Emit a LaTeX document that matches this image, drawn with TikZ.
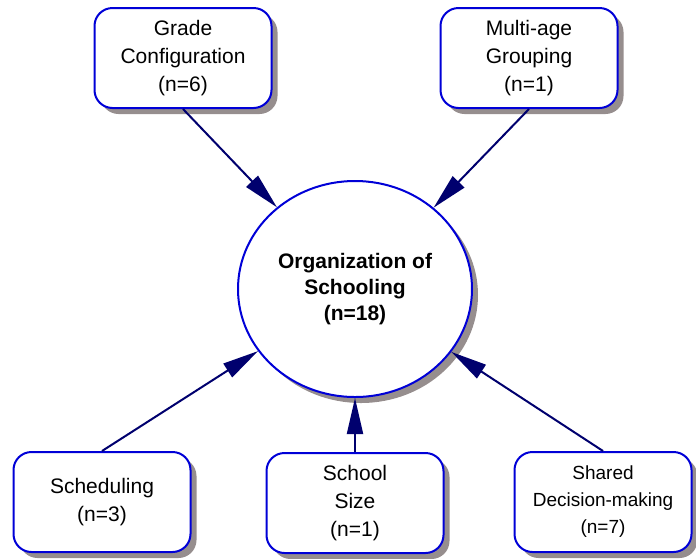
\documentclass[tikz,border=0pt]{standalone}
\usepackage{fontspec}
\setmainfont{Liberation Sans}
\usetikzlibrary{arrows.meta}
\usetikzlibrary{shapes.geometric}
\usetikzlibrary{shadows}
\definecolor{boxblue}{RGB}{0,0,215}
\definecolor{arrownavy}{RGB}{0,0,110}
\definecolor{shadowgray}{RGB}{150,142,142}
\tikzset{topic/.style = {draw=boxblue, line width=2pt, fill=white,
                         rounded corners=18pt, minimum width=177pt,
                         minimum height=100pt, align=center,
                         font=\fontsize{21}{28}\selectfont,
                         drop shadow={shadow xshift=6pt, shadow yshift=-6pt,
                                      fill=shadowgray, opacity=1}}}
\tikzset{hub/.style = {ellipse, draw=boxblue, line width=2pt, fill=white,
                       minimum width=234pt, minimum height=216pt, inner sep=0,
                       align=center, font=\fontsize{21}{26}\selectfont\bfseries,
                       drop shadow={shadow xshift=6pt, shadow yshift=-6pt,
                                    fill=shadowgray, opacity=1}}}
\tikzset{feed/.style = {draw=arrownavy, line width=2pt,
                        -{Triangle[length=36pt, width=16pt]}}}

\begin{document}
\begin{tikzpicture}[x=1pt, y=-1pt]
          \useasboundingbox (0, 0) rectangle (696, 558);
          \node [hub] (org) at (355, 289) {Organization of\\Schooling\\(n=18)};
          \node [topic] (grade) at (183, 58) {Grade\\Configuration\\(n=6)};
          \node [topic] (multiage) at (529, 58) {Multi-age\\Grouping\\(n=1)};
          \node [topic] (sched) at (102, 502) {Scheduling\\(n=3)};
          \node [topic] (size) at (355, 503) {School\\Size\\(n=1)};
          \node [topic, font=\fontsize{19}{27}\selectfont] (shared) at (603, 502)
                {Shared\\Decision-making\\(n=7)};
          \draw [feed] (grade.south) -- (org);
          \draw [feed] (multiage.south) -- (org);
          \draw [feed] (sched.north) -- (org);
          \draw [feed] (size.north) -- (org);
          \draw [feed] (shared.north) -- (org);
        \end{tikzpicture}
\end{document}
